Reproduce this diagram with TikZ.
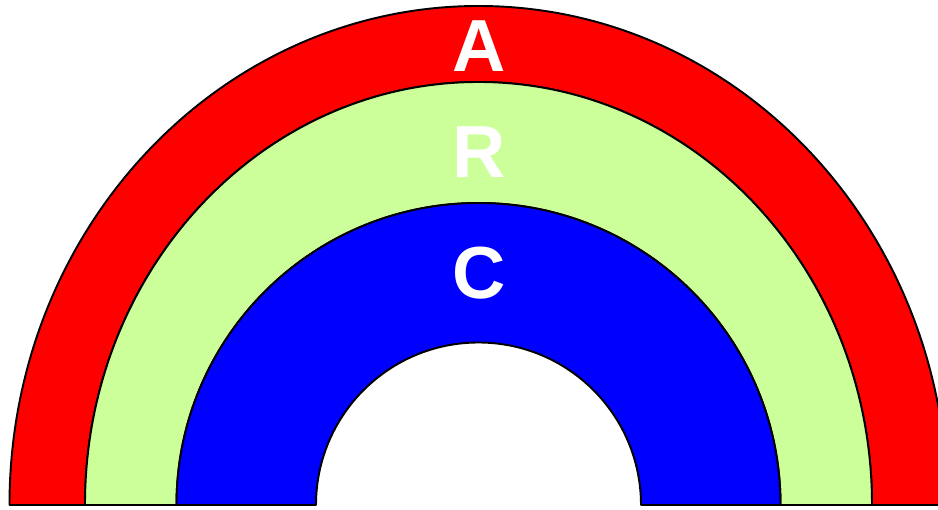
\documentclass[tikz,border=0pt]{standalone}
\usepackage{fontspec}
\setmainfont{Liberation Sans}
\usetikzlibrary{positioning}
\definecolor{bowred}{RGB}{255,0,0}
\definecolor{bowgreen}{RGB}{204,255,153}
\definecolor{bowblue}{RGB}{0,0,255}
\tikzset{
  band/.style={draw=black, line width=1.1pt, line join=round},
  letter/.style={text=white, inner sep=0pt, font=\fontsize{42}{42}\selectfont\bfseries},
}
\begin{document}
\begin{tikzpicture}
    \useasboundingbox (-9.57,-0.1) rectangle (9.19,10.1);
    \clip (-9.57,-0.1) rectangle (9.19,10.1);
    % outer band
    \draw[band, fill=bowred] (-9.38,0) arc[start angle=180, end angle=0, x radius=9.38, y radius=9.98]
      -- (7.87,0) arc[start angle=0, end angle=180, x radius=7.87, y radius=8.46] -- cycle;
    % middle band
    \draw[band, fill=bowgreen] (-7.87,0) arc[start angle=180, end angle=0, x radius=7.87, y radius=8.46]
      -- (6.04,0) arc[start angle=0, end angle=180, radius=6.04] -- cycle;
    % inner band
    \draw[band, fill=bowblue] (-6.04,0) arc[start angle=180, end angle=0, radius=6.04]
      -- (3.25,0) arc[start angle=0, end angle=180, radius=3.25] -- cycle;
    \node[letter] (a) at (0.01,9.17) {A};
    \node[letter] (r) at (0.01,7.06) {R};
    \node[letter] (c) at (0.01,4.63) {C};
  \end{tikzpicture}
\end{document}
